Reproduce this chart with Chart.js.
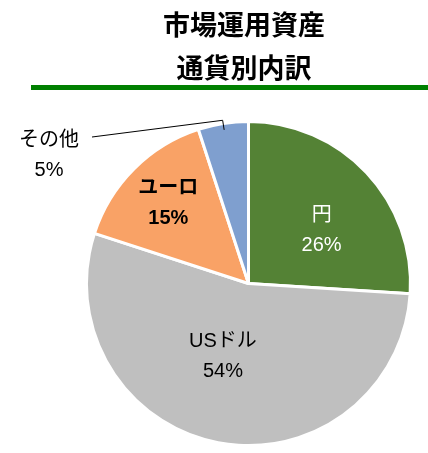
<!DOCTYPE html>
<html>
<head>
<meta charset="utf-8">
<script src="https://cdn.jsdelivr.net/npm/chart.js@4/dist/chart.umd.min.js"></script>
<style>
  html, body { margin: 0; padding: 0; background: #fff; }
</style>
</head>
<body>
<canvas id="pieChartCurrency" width="428" height="453"></canvas>
<script>
var titleLines = ["市場運用資産", "通貨別内訳"];
var categories = ["円", "USドル", "ユーロ", "その他"];
var shares = [26, 54, 15, 5];
var sliceColors = ["#548235", "#BFBFBF", "#F9A266", "#7F9FCF"];

var JP = '"Noto Sans CJK JP", "Liberation Sans", sans-serif';
var LABEL_FONT = '"Liberation Sans", "Noto Sans CJK JP", sans-serif';

// where each label sits: fraction of radius along the slice's middle, plus a nudge
var labelStyle = [
    { f: 0.56, dx: 7, dy: 9, color: "#ffffff", weight: "normal" },
    { f: 0.48, dx: -11, dy: -3, color: "#000000", weight: "normal" },
    { f: 0.70, dx: 0, dy: 0, color: "#000000", weight: "bold" },
    { outside: true, x: 49, y: 155, color: "#000000", weight: "normal" }
];

var decorations = {
    id: 'decorations',
    afterDraw: function (chart) {
        var c = chart.ctx;
        c.save();
        // title
        c.fillStyle = "#000";
        c.font = "bold 27px " + JP;
        c.textAlign = "center";
        c.textBaseline = "middle";
        c.fillText(titleLines[0], 244, 25);
        c.fillText(titleLines[1], 244, 68);
        // green rule
        c.fillStyle = "#008000";
        c.fillRect(31, 85, 397, 5);

        var arcs = chart.getDatasetMeta(0).data;
        arcs.forEach(function (arc, i) {
            var p = arc.getProps(['x', 'y', 'startAngle', 'endAngle', 'outerRadius'], true);
            var mid = (p.startAngle + p.endAngle) / 2;
            var st = labelStyle[i];
            var lx, ly;
            if (st.outside) {
                lx = st.x; ly = st.y;
                var ax = p.x + Math.cos(mid) * p.outerRadius * 0.96;
                var ay = p.y + Math.sin(mid) * p.outerRadius * 0.96;
                var bx = p.x + Math.cos(mid) * p.outerRadius * 1.02;
                var by = p.y + Math.sin(mid) * p.outerRadius * 1.02;
                c.strokeStyle = "#000";
                c.lineWidth = 1;
                c.beginPath();
                c.moveTo(ax, ay);
                c.lineTo(bx, by);
                c.lineTo(92, 137);
                c.stroke();
            } else {
                lx = p.x + Math.cos(mid) * p.outerRadius * st.f + st.dx;
                ly = p.y + Math.sin(mid) * p.outerRadius * st.f + st.dy;
            }
            c.fillStyle = st.color;
            c.font = st.weight + " 20px " + LABEL_FONT;
            c.textAlign = "center";
            c.textBaseline = "middle";
            c.fillText(categories[i], lx, ly - 15);
            c.fillText(shares[i] + "%", lx, ly + 15);
        });
        c.restore();
    }
};

var ctx1 = document.getElementById("pieChartCurrency");

var pieChart1 = new Chart(ctx1, {
    type: 'pie',
    plugins: [decorations],
    options: {
        responsive: false,
        animation: false,
        layout: {
            padding: { left: 85, right: 16, top: 120, bottom: 6 }
        },
        plugins: {
            legend: { display: false },
            tooltip: { enabled: false },
            title: { display: false }
        }
    },
    data: {
        labels: categories,
        datasets: [
            {
                data: shares,
                borderWidth: 3,
                borderColor: "#ffffff",
                backgroundColor: sliceColors
            }]
    }
});
</script>
</body>
</html>
